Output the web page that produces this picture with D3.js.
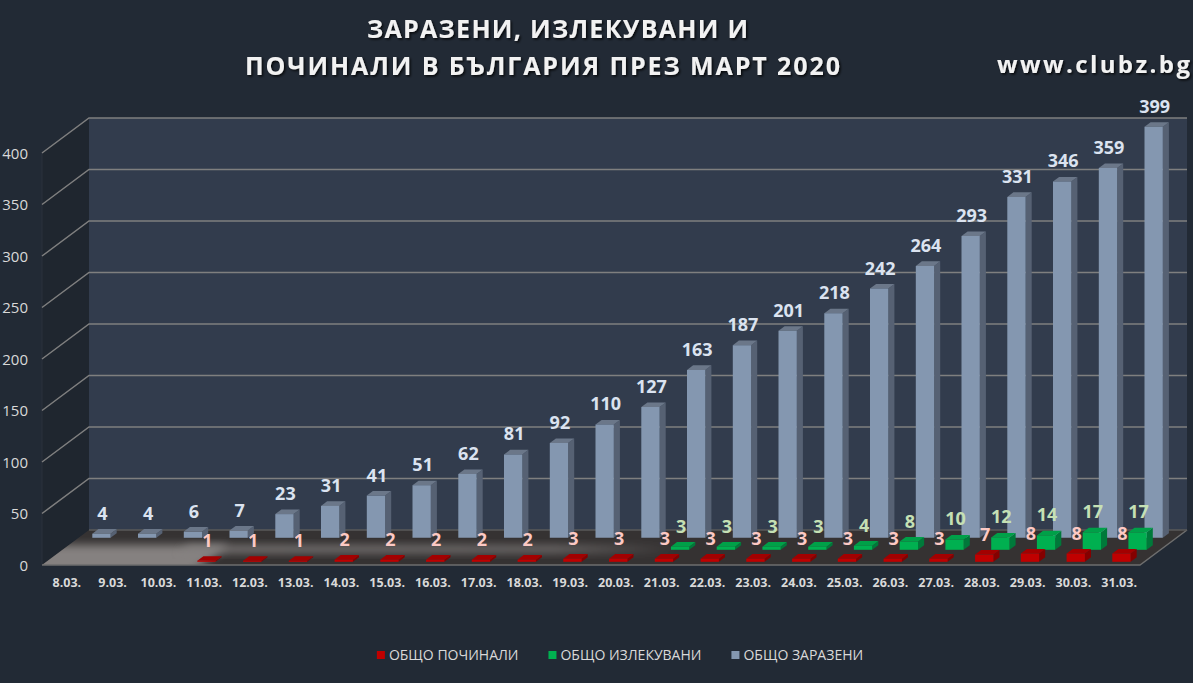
<!DOCTYPE html>
<html>
<head>
<meta charset="utf-8">
<script src="https://cdn.jsdelivr.net/npm/d3@7/dist/d3.min.js"></script>
<style>
	html, body { margin: 0; padding: 0; background: #222a35; }
	svg { display: block; font-family: 'Open Sans', 'Noto Sans', sans-serif; }
</style>
</head>
<body>
<svg id="chart" width="1193" height="683"></svg>
<script>

// data
var days = ['8.03.', '9.03.', '10.03.', '11.03.', '12.03.', '13.03.', '14.03.', '15.03.', '16.03.', '17.03.', '18.03.', '19.03.',
	'20.03.', '21.03.', '22.03.', '23.03.', '24.03.', '25.03.', '26.03.', '27.03.', '28.03.', '29.03.', '30.03.', '31.03.'];
var infected = [4, 4, 6, 7, 23, 31, 41, 51, 62, 81, 92, 110, 127, 163, 187, 201, 218, 242, 264, 293, 331, 346, 359, 399];
var recovered = [0, 0, 0, 0, 0, 0, 0, 0, 0, 0, 0, 0, 0, 3, 3, 3, 3, 4, 8, 10, 12, 14, 17, 17];
var deaths = [0, 0, 0, 1, 1, 1, 2, 2, 2, 2, 2, 3, 3, 3, 3, 3, 3, 3, 3, 3, 7, 8, 8, 8];
var yTicks = [0, 50, 100, 150, 200, 250, 300, 350, 400];

var series = [
	{ key: 'deaths', name: 'ОБЩО ПОЧИНАЛИ', values: deaths, front: '#c00000', side: '#850000', top: '#a30000', label: '#fcc9c4' },
	{ key: 'recovered', name: 'ОБЩО ИЗЛЕКУВАНИ', values: recovered, front: '#00b050', side: '#00793a', top: '#00a048', label: '#c5e0b4' },
	{ key: 'infected', name: 'ОБЩО ЗАРАЗЕНИ', values: infected, front: '#8497b0', side: '#566173', top: '#6b7789', label: '#dbe3f0' }
];

var svg = d3.select('#chart');
var defs = svg.append('defs');

// 3D box: front-left corner, depth offset
var X0 = 42, Y0 = 565, DX = 47, DY = 35, W = 1098;

var x = d3.scaleBand().domain(days).range([0, W]).paddingInner(0.6).paddingOuter(0.3);
var z = d3.scaleBand().domain(series.map(function(s) { return s.key; })).range([0, 1]).paddingInner(0.62).paddingOuter(0.27);
var h = d3.scaleLinear().domain([0, 400]).range([0, 412]);

function P(u, v, val) {
	return [X0 + u + DX * v, Y0 - DY * v - h(val)];
}
function poly(pts) {
	return pts.map(function(p) { return p[0].toFixed(1) + ',' + p[1].toFixed(1); }).join(' ');
}

// walls
var wall = svg.append('g');
wall.append('polygon').attr('points', poly([P(0, 0, 0), P(0, 1, 0), P(0, 1, 400), P(0, 0, 400)])).attr('fill', '#1f262f');
wall.append('polygon').attr('points', poly([P(0, 1, 0), P(W, 1, 0), P(W, 1, 400), P(0, 1, 400)])).attr('fill', '#323c4d');
wall.append('line').attr('x1', X0).attr('x2', X0).attr('y1', Y0).attr('y2', Y0 - h(400)).attr('stroke', '#2a313c').attr('stroke-width', 1);

yTicks.forEach(function(t) {
	if (t === 0) return;
	var a = P(0, 0, t), b = P(0, 1, t), c = P(W, 1, t);
	wall.append('polyline').attr('points', poly([a, b, c])).attr('fill', 'none').attr('stroke', '#7f7f7f').attr('stroke-width', 1.5);
});

// y axis labels
svg.append('g').selectAll('text').data(yTicks).join('text')
	.attr('x', 28).attr('y', function(d) { return Y0 - h(d) + 5.5; })
	.attr('text-anchor', 'end').attr('font-size', 15).attr('fill', '#d9d9d9')
	.text(function(d) { return d; });

// floor
var blur = defs.append('filter').attr('id', 'soft').attr('x', '-20%').attr('y', '-100%').attr('width', '140%').attr('height', '300%');
blur.append('feGaussianBlur').attr('stdDeviation', 4);
var fade = defs.append('linearGradient').attr('id', 'fade').attr('x1', 0).attr('x2', 1).attr('y1', 0).attr('y2', 0);
fade.append('stop').attr('offset', 0).attr('stop-color', '#858180').attr('stop-opacity', 1);
fade.append('stop').attr('offset', 0.75).attr('stop-color', '#858180').attr('stop-opacity', 0.8);
fade.append('stop').attr('offset', 1).attr('stop-color', '#858180').attr('stop-opacity', 0);

var floor = svg.append('g');
var floorPts = [P(0, 0, 0), P(0, 1, 0), P(W, 1, 0), P(W, 0, 0)];
floor.append('polygon').attr('points', poly(floorPts)).attr('fill', '#353232');
var clip = defs.append('clipPath').attr('id', 'floorclip');
clip.append('polygon').attr('points', poly(floorPts));
var glow = floor.append('g').attr('clip-path', 'url(#floorclip)');
glow.append('polygon').attr('points', poly([P(-30, -0.2, 0), P(-30, 0.58, 0), P(160, 0.58, 0), P(160, -0.2, 0)]))
	.attr('fill', '#858180').attr('filter', 'url(#soft)');
glow.append('polygon').attr('points', poly([P(120, 0.36, 0), P(120, 0.55, 0), P(610, 0.55, 0), P(610, 0.36, 0)]))
	.attr('fill', 'url(#fade)').attr('filter', 'url(#soft)');
floor.append('polyline').attr('points', poly([P(0, 0, 0), P(W, 0, 0), P(W, 1, 0)]))
	.attr('fill', 'none').attr('stroke', '#6e6e6e').attr('stroke-width', 1.5);
floor.append('line').attr('x1', P(0, 1, 0)[0]).attr('y1', P(0, 1, 0)[1]).attr('x2', P(W, 1, 0)[0]).attr('y2', P(W, 1, 0)[1])
	.attr('stroke', '#5a5a5a').attr('stroke-width', 1.5);

// bars, back row first
var bars = svg.append('g');
var labels = svg.append('g').attr('font-weight', 700).attr('font-size', 18).attr('text-anchor', 'middle');
var bw = x.bandwidth(), dv = z.bandwidth();

series.slice().reverse().forEach(function(s) {
	var v = z(s.key);
	var g = bars.append('g');
	s.values.forEach(function(val, i) {
		if (!val) return;
		var u = x(days[i]);
		g.append('polygon').attr('points', poly([P(u + bw, v, 0), P(u + bw, v + dv, 0), P(u + bw, v + dv, val), P(u + bw, v, val)])).attr('fill', s.side);
		g.append('polygon').attr('points', poly([P(u, v, val), P(u + bw, v, val), P(u + bw, v + dv, val), P(u, v + dv, val)])).attr('fill', s.top);
		g.append('polygon').attr('points', poly([P(u, v, 0), P(u + bw, v, 0), P(u + bw, v, val), P(u, v, val)])).attr('fill', s.front);
	});
});

series.slice().reverse().forEach(function(s) {
	var v = z(s.key);
	s.values.forEach(function(val, i) {
		if (!val) return;
		var p = P(x(days[i]) + bw / 2 + 1, v, val);
		labels.append('text').attr('x', p[0]).attr('y', p[1] - 14).attr('fill', s.label).text(val);
	});
});

// category labels
svg.append('g').selectAll('text').data(days).join('text')
	.attr('x', function(d) { return X0 + x(d) + bw / 2 + 2; }).attr('y', 587)
	.attr('text-anchor', 'middle').attr('font-size', 12.5).attr('font-weight', 700).attr('fill', '#d9d9d9')
	.text(function(d) { return d; });

// title
var shadow = defs.append('filter').attr('id', 'shadow').attr('x', '-5%').attr('y', '-30%').attr('width', '110%').attr('height', '160%');
shadow.append('feDropShadow').attr('dx', 1.5).attr('dy', 1.5).attr('stdDeviation', 1.2).attr('flood-color', '#000').attr('flood-opacity', 0.8);

var title = svg.append('g').attr('font-weight', 700).attr('fill', '#f2f2f2').attr('filter', 'url(#shadow)');
title.append('text').attr('x', 367).attr('y', 38).attr('font-size', 25).attr('textLength', 381).attr('lengthAdjust', 'spacing').text('ЗАРАЗЕНИ, ИЗЛЕКУВАНИ И');
title.append('text').attr('x', 245).attr('y', 75).attr('font-size', 25).attr('textLength', 595).attr('lengthAdjust', 'spacing').text('ПОЧИНАЛИ В БЪЛГАРИЯ ПРЕЗ МАРТ 2020');
title.append('text').attr('x', 997).attr('y', 73).attr('font-size', 24).attr('textLength', 193).attr('lengthAdjust', 'spacing').text('www.clubz.bg');

// legend
var legend = svg.append('g').attr('font-size', 14).attr('fill', '#d9d9d9');
var lx = 0;
series.forEach(function(s) {
	var item = legend.append('g').attr('transform', 'translate(' + lx + ',0)');
	item.append('rect').attr('x', 0).attr('y', 651).attr('width', 8).attr('height', 8).attr('fill', s.front);
	var t = item.append('text').attr('x', 12).attr('y', 660).text(s.name);
	lx += 12 + t.node().getComputedTextLength() + 30;
});
legend.attr('transform', 'translate(' + (620 - (lx - 30) / 2) + ',0)');

</script>
</body>
</html>
